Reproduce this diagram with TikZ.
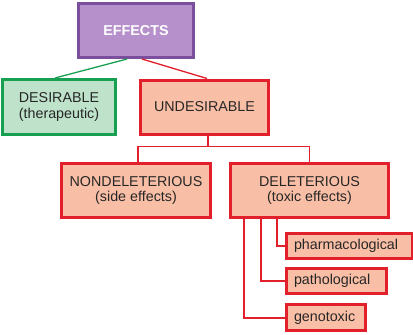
\documentclass[tikz,border=0pt]{standalone}
\usepackage{fontspec}
\setmainfont{Liberation Sans}
\usepackage{xcolor}
\usepackage{tikz}
\usetikzlibrary{positioning,calc}
\definecolor{effborder}{HTML}{7B4F9E}
\definecolor{efffill}{HTML}{B590CA}
\definecolor{goodborder}{HTML}{18A052}
\definecolor{goodfill}{HTML}{BFE3CA}
\definecolor{badborder}{HTML}{E2202B}
\definecolor{badfill}{HTML}{F9BFA6}
\tikzset{
    rootbox/.style={
        draw=effborder, fill=efffill, line width=3pt,
        minimum width=115pt, minimum height=54pt,
        font=\fontsize{14.3}{15.5}\selectfont\bfseries, text=white, align=center
    },
    goodbox/.style={
        draw=goodborder, fill=goodfill, line width=3pt,
        minimum width=113pt, minimum height=55pt,
        font=\fontsize{14.3}{15.5}\selectfont, text=black!85, align=center
    },
    badbox/.style={
        draw=badborder, fill=badfill, line width=3pt,
        minimum height=54pt,
        font=\fontsize{14.3}{15.5}\selectfont, text=black!85, align=center
    },
    kindbox/.style={
        draw=badborder, fill=badfill, line width=3pt,
        minimum height=25pt, inner xsep=8pt, anchor=west,
        font=\fontsize{14.3}{15.5}\selectfont, text=black!85, align=left
    },
    goodline/.style={draw=goodborder, line width=1.3pt},
    badline/.style={draw=badborder, line width=1.3pt},
    kindline/.style={draw=badborder, line width=2pt},
}
\begin{document}
\begin{tikzpicture}[x=1pt, y=-1pt]
    \useasboundingbox (0,0) rectangle (413,335);
    \node[rootbox] (effects) at (136,30.5) {EFFECTS};
    \node[goodbox] (desirable) at (59,107) {DESIRABLE\\(therapeutic)};
    \node[badbox, minimum width=128pt] (undesirable) at (204.5,107) {UNDESIRABLE};
    \node[badbox, minimum width=149pt] (nondel) at (136,190.5) {NONDELETERIOUS\\(side effects)};
    \node[badbox, minimum width=158pt] (del) at (309.5,190.5) {DELETERIOUS\\(toxic effects)};
    \node[kindbox, text width=110pt] (pharma) at (284.5,246) {pharmacological};
    \node[kindbox, text width=84pt] (patho) at (284.5,281) {pathological};
    \node[kindbox, text width=63pt, minimum height=26pt] (geno) at (284.5,317.5) {genotoxic};
    % top split
    \draw[goodline] ($(effects.south)+(-9,0)$) -- ($(desirable.north)+(-4,0)$);
    \draw[badline] ($(effects.south)+(6,0)$) -- ($(undesirable.north)+(2.5,0)$);
    % undesirable branches
    \coordinate (fork) at ($(undesirable.south)+(3.5,11)$);
    \draw[badline] ($(undesirable.south)+(3.5,0)$) -- (fork);
    \draw[badline] (fork) -| ($(nondel.north)+(2,0)$);
    \draw[badline] (fork) -| (del.north);
    % deleterious kinds
    \draw[kindline] ($(del.south)+(-32.5,0)$) |- (pharma.west);
    \draw[kindline] ($(del.south)+(-48.5,0)$) |- (patho.west);
    \draw[kindline] ($(del.south)+(-65.5,0)$) |- (geno.west);
\end{tikzpicture}
\end{document}
